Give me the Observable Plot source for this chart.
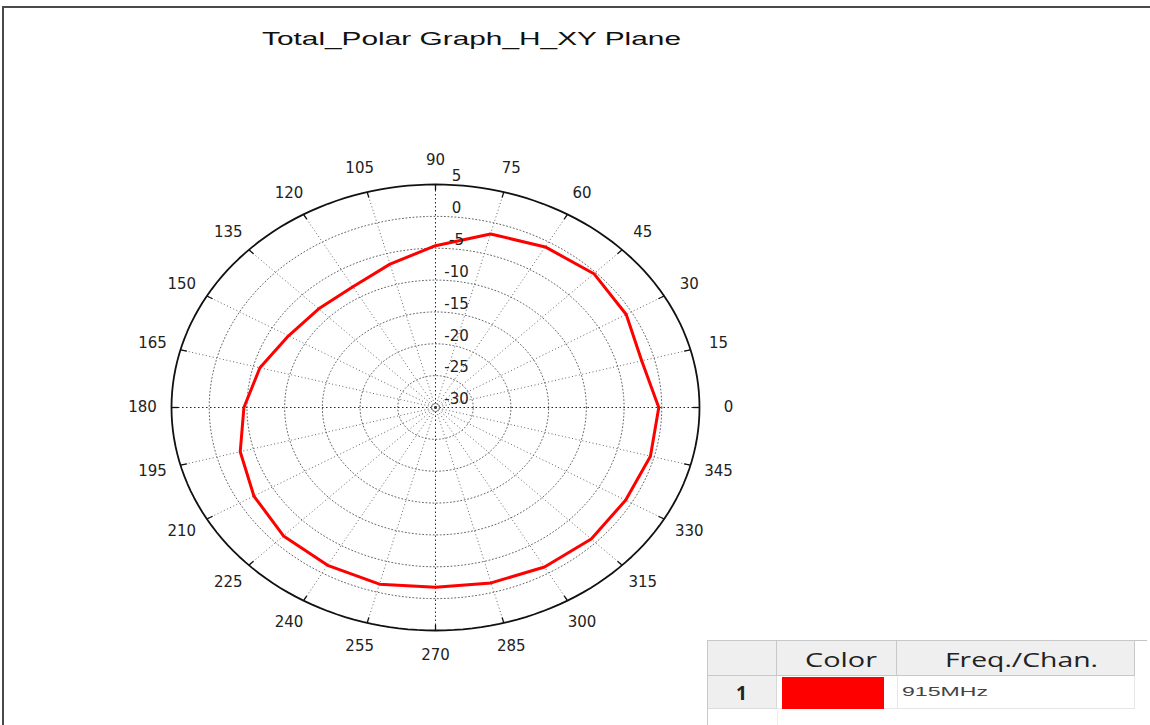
<!DOCTYPE html>
<html>
<head>
<meta charset="utf-8">
<script src="https://cdn.jsdelivr.net/npm/d3@7"></script>
<script src="https://cdn.jsdelivr.net/npm/@observablehq/plot@0.6"></script>
<style>
  html, body { margin: 0; padding: 0; background: #fff; }
  #page { position: relative; width: 1150px; height: 725px; overflow: hidden; background: #fff; }
  #frame { position: absolute; left: 2px; top: 6px; width: 1148px; height: 719px;
           border-top: 2px solid #4a4a4a; border-left: 2px solid #4a4a4a; box-sizing: border-box; }
  #chart { position: absolute; left: 0; top: 0; }
  .fit { position: absolute; white-space: nowrap; transform-origin: 0 0; line-height: 1; }
  #title { font-family: "Liberation Sans", Arial, sans-serif; font-size: 19px; color: #111; }
  .cell { position: absolute; box-sizing: border-box; }
  .hdr { font-family: "Open Sans", sans-serif; font-size: 20px; color: #222; }
</style>
</head>
<body>
<div id="page">
  <div id="frame"></div>
  <div id="chart"></div>
  <div id="title" class="fit">Total_Polar Graph_H_XY Plane</div>
  <div id="legend"></div>
</div>
<script>
// Measured total gain in the XY plane, one sample every 15 degrees
const angles = [0, 15, 30, 45, 60, 75, 90, 105, 120, 135, 150, 165,
                180, 195, 210, 225, 240, 255, 270, 285, 300, 315, 330, 345];
const gainDb = [-0.4, -1.7, -0.8, -0.3, -0.9, -1.8, -4.6, -6.7, -8.1, -8.1, -7.5, -5.9,
                -4.6, -3.2, -2.2, -1.5, -1.4, -1.3, -1.8, -1.5, -1.1, -0.8, -0.9, -0.5];

// Radial axis (dB): centre at -30, outer ring at +5
const radialTicks = [5, 0, -5, -10, -15, -20, -25, -30];
const angleTicks = angles;
const rMin = -30, rMax = 5;

// Legend table contents
const seriesIndex = ["1"];
const seriesColor = ["#ff0000"];
const seriesName = ["915MHz"];
const legendHeaders = ["", "Color", "Freq./Chan."];

const R = rMax - rMin;
const rad = d => d * Math.PI / 180;
const polar = (deg, r) => ({x: r * Math.cos(rad(deg)), y: r * Math.sin(rad(deg))});

// Concentric rings for each radial tick (excluding the centre and outer boundary)
const ringSteps = d3.range(0, 361, 2);
const rings = radialTicks.filter(v => v > rMin && v < rMax)
  .flatMap(v => ringSteps.map(a => ({ring: v, ...polar(a, v - rMin)})));
const outer = ringSteps.map(a => polar(a, R));

// Spokes every 15 degrees
const spokes = angleTicks.map(a => ({a, ...polar(a, R)}));
const mainSpokes = spokes.filter(s => s.a % 90 === 0);
const minorSpokes = spokes.filter(s => s.a % 90 !== 0);
const ticks = angleTicks.map(a => {
  const p = polar(a, R), q = polar(a, R * 0.975);
  return {x1: p.x, y1: p.y, x2: q.x, y2: q.y};
});

const angleLabels = angleTicks.map(a => ({label: String(a), ...polar(a, R * 1.11)}));
const radialLabels = radialTicks.map(v => ({label: String(v), x: 0, y: v - rMin}));

// Pattern trace, closed back onto its first sample
const pattern = angles.map((a, i) => polar(a, gainDb[i] - rMin));
pattern.push(pattern[0]);

const cx = 435, cy = 407, rx = 264, ry = 223;
const W = 1150, H = 725;

const chart = Plot.plot({
  width: W,
  height: H,
  marginLeft: cx - rx,
  marginRight: W - (cx + rx),
  marginTop: cy - ry,
  marginBottom: H - (cy + ry),
  x: {domain: [-R, R], axis: null},
  y: {domain: [-R, R], axis: null},
  style: {background: "transparent", overflow: "visible"},
  marks: [
    Plot.line(rings, {x: "x", y: "y", z: "ring", stroke: "#666", strokeWidth: 1, strokeDasharray: "1,2.5"}),
    Plot.link(minorSpokes, {x1: 0, y1: 0, x2: "x", y2: "y", stroke: "#666", strokeWidth: 1, strokeDasharray: "1,2.5"}),
    Plot.link(mainSpokes, {x1: 0, y1: 0, x2: "x", y2: "y", stroke: "#222", strokeWidth: 1, strokeDasharray: "1.5,2.5"}),
    Plot.dot([{x: 0, y: 0}], {x: "x", y: "y", r: 4, stroke: "#666", strokeWidth: 1, fill: "none", strokeDasharray: "1,1.5"}),
    Plot.dot([{x: 0, y: 0}], {x: "x", y: "y", r: 1.2, fill: "#333"}),
    Plot.line(outer, {x: "x", y: "y", stroke: "#111", strokeWidth: 1.8}),
    Plot.link(ticks, {x1: "x1", y1: "y1", x2: "x2", y2: "y2", stroke: "#111", strokeWidth: 1.3}),
    Plot.line(pattern, {x: "x", y: "y", stroke: "#ff0000", strokeWidth: 3, strokeLinejoin: "round"}),
    Plot.text(angleLabels, {x: "x", y: "y", text: "label", fontSize: 15, fontFamily: "DejaVu Sans", fill: "#222"}),
    Plot.text(radialLabels, {x: "x", y: "y", text: "label", fontSize: 15, fontFamily: "DejaVu Sans", fill: "#222", dx: 21, dy: -8})
  ]
});
document.getElementById("chart").appendChild(chart);

// Stretch a text box horizontally to a given width
function fit(el, left, top, width) {
  el.style.left = left + "px";
  el.style.top = top + "px";
  const w = el.getBoundingClientRect().width;
  el.style.transform = `scaleX(${width / w})`;
}
fit(document.getElementById("title"), 262, 29, 419);

// Legend table
const legend = document.getElementById("legend");
function cell(left, top, width, height, style) {
  const d = document.createElement("div");
  d.className = "cell";
  Object.assign(d.style, {left: left + "px", top: top + "px", width: width + "px", height: height + "px"}, style || {});
  legend.appendChild(d);
  return d;
}
function label(text, cls, left, top, width, style) {
  const d = document.createElement("div");
  d.className = "fit " + cls;
  d.textContent = text;
  Object.assign(d.style, style || {});
  legend.appendChild(d);
  fit(d, left, top, width);
  return d;
}
// header row
cell(707, 640, 440, 1, {background: "#c4c4c4"});
cell(707, 640, 70, 36, {background: "#efefef", border: "1px solid #c8c8c8"});
cell(777, 640, 120, 36, {background: "#efefef", border: "1px solid #c8c8c8", borderLeft: "none"});
cell(897, 640, 238, 36, {background: "#efefef", border: "1px solid #c8c8c8", borderLeft: "none"});
label(legendHeaders[1], "hdr", 805, 650, 72);
label(legendHeaders[2], "hdr", 945, 650, 153);
// data rows
seriesName.forEach((name, i) => {
  const top = 676 + i * 33;
  cell(707, top, 70, 33, {background: "#efefef", borderLeft: "1px solid #c8c8c8", borderBottom: "1px solid #dcdcdc", borderRight: "1px solid #d8d8d8"});
  cell(777, top, 120, 33, {background: "#fff", borderBottom: "1px solid #e8e8e8"});
  cell(782, top + 1, 102, 32, {background: seriesColor[i]});
  cell(897, top, 238, 33, {background: "#fff", border: "1px solid #e6e6e6", borderTop: "none"});
  label(seriesIndex[i], "hdr", 736, top + 8, 11, {fontWeight: "bold", fontSize: "19px"});
  label(name, "hdr", 902, top + 9, 86, {fontSize: "13px", color: "#444", fontFamily: "Liberation Sans, sans-serif"});
});
cell(707, 709, 1, 16, {background: "#c8c8c8"});
cell(777, 709, 1, 16, {background: "#eeeeee"});
</script>
</body>
</html>
